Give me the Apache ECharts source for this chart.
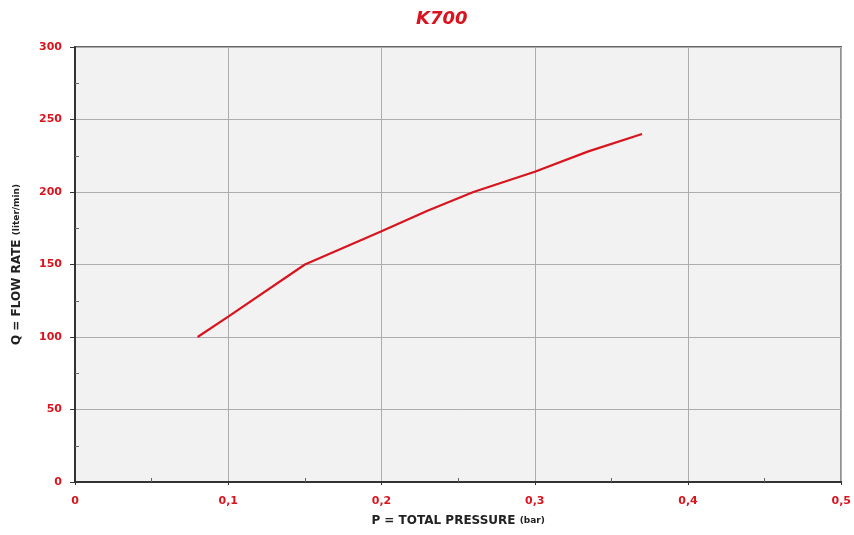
<!DOCTYPE html>
<html>
<head>
<meta charset="utf-8">
<script src="https://cdn.jsdelivr.net/npm/echarts@6/dist/echarts.min.js"></script>
<style>html,body{margin:0;padding:0;background:#fff}#c{width:854px;height:535px}</style>
</head>
<body>
<div id="c"></div>
<script>
const titleText = 'K700';
const pressure = [0.08, 0.1, 0.15, 0.2, 0.23, 0.26, 0.3, 0.335, 0.37];
const flowRate = [100, 114, 150, 173, 187, 200, 214, 228, 240];
const xName = 'P = TOTAL PRESSURE ';
const xUnit = '(bar)';
const yName = 'Q = FLOW RATE ';
const yUnit = '(liter/min)';

const RED = '#d8141e';
const FONT = 'DejaVu Sans';
const chart = echarts.init(document.getElementById('c'));
chart.setOption({
  animation: false,
  title: {
    text: titleText, left: 411, top: 5,
    textStyle: { color: RED, fontSize: 18, fontWeight: 'bold', fontStyle: 'italic', fontFamily: FONT }
  },
  grid: { left: 75, right: 11, top: 47, bottom: 53, show: true, backgroundColor: '#f2f2f2', borderColor: '#333', borderWidth: 1.5 },
  xAxis: {
    type: 'value', min: 0, max: 0.5, interval: 0.1,
    name: xName + '{u|' + xUnit + '}', nameLocation: 'middle', nameGap: 33,
    nameTextStyle: { color: '#222', fontSize: 12, fontWeight: 'bold', fontFamily: FONT, rich: { u: { fontSize: 9, fontWeight: 'bold', fontFamily: FONT, color: '#222' } } },
    axisLine: { show: true, lineStyle: { color: '#333', width: 2 } },
    axisTick: { show: true, length: 3, lineStyle: { color: '#333' } },
    minorTick: { show: true, splitNumber: 2, length: -4, lineStyle: { color: '#666' } },
    axisLabel: { color: RED, fontSize: 11, fontWeight: 'bold', fontFamily: FONT, margin: 14,
      formatter: v => String(Math.round(v * 10) / 10).replace('.', ',') },
    splitLine: { show: true, lineStyle: { color: '#adadad', width: 1 } }
  },
  yAxis: {
    type: 'value', min: 0, max: 300, interval: 50,
    name: yName + '{u|' + yUnit + '}', nameLocation: 'middle', nameGap: 52,
    nameTextStyle: { color: '#222', fontSize: 12, fontWeight: 'bold', fontFamily: FONT, rich: { u: { fontSize: 9, fontWeight: 'bold', fontFamily: FONT, color: '#222' } } },
    axisLine: { show: true, lineStyle: { color: '#333', width: 2 } },
    axisTick: { show: true, length: 5, lineStyle: { color: '#333' } },
    minorTick: { show: true, splitNumber: 2, length: -4, lineStyle: { color: '#666' } },
    axisLabel: { color: RED, fontSize: 11, fontWeight: 'bold', fontFamily: FONT, margin: 13 },
    splitLine: { show: true, lineStyle: { color: '#adadad', width: 1 } }
  },
  series: [{
    type: 'line', data: pressure.map((p, i) => [p, flowRate[i]]),
    showSymbol: false, lineStyle: { color: RED, width: 2.2 }, smooth: false
  }]
});
</script>
</body>
</html>
